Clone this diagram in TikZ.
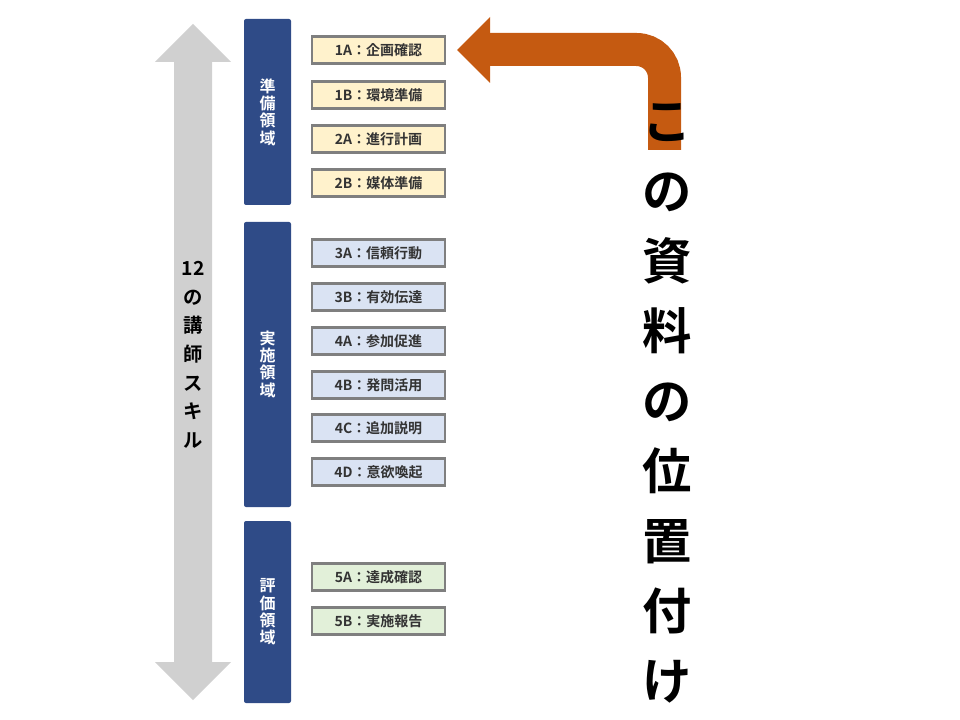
\documentclass[tikz,border=0pt]{standalone}
\usepackage{fontspec}
\setmainfont{Noto Sans CJK JP}[BoldFont={Noto Sans CJK JP Bold}]
\begin{document}
\begin{tikzpicture}[x=0.75pt,y=-0.75pt,
 dom/.style={fill=blueD,draw=none,rounded corners=1.5pt},
 item/.style={draw=grayB,line width=2pt,minimum width=133*0.75pt,minimum height=27*0.75pt,inner sep=0pt,font=\bfseries\fontsize{10.5}{12}\selectfont,text=black!80},
 dtext/.style={text=white,font=\bfseries\fontsize{12}{13}\selectfont,align=center}]
\definecolor{blueD}{HTML}{2F4B87}
\definecolor{grayB}{HTML}{7F7F7F}
\definecolor{creamF}{HTML}{FFF2CC}
\definecolor{blueF}{HTML}{DAE3F3}
\definecolor{greenF}{HTML}{E2F0D9}
\definecolor{orangeA}{HTML}{C55A11}
\definecolor{grayA}{HTML}{D0D0D0}
\useasboundingbox (0,0) rectangle (960,720);
% gray double arrow
\fill[grayA] (193,24) -- (231,62) -- (212,62) -- (212,662) -- (231,662) -- (193,700) -- (155,662) -- (174,662) -- (174,62) -- (155,62) -- cycle;
\node[align=center,font=\bfseries\fontsize{14.5}{21.5}\selectfont] (skill) at (193,355) {12\\の\\講\\師\\ス\\キ\\ル};
% domains
\fill[dom] (244,19) rectangle (291,205);
\node[dtext] (d1) at (267.5,112) {準\\備\\領\\域};
\fill[dom] (244,222) rectangle (291,507);
\node[dtext] (d2) at (267.5,364) {実\\施\\領\\域};
\fill[dom] (244,521) rectangle (291,703);
\node[dtext] (d3) at (267.5,612) {評\\価\\領\\域};
% items
\foreach \y/\t in {50/1A：企画確認,95/1B：環境準備,139/2A：進行計画,183/2B：媒体準備}
  \node[item,fill=creamF] at (378.5,\y) {\t};
\foreach \y/\t in {253/3A：信頼行動,297/3B：有効伝達,341/4A：参加促進,385/4B：発問活用,428/4C：追加説明,472/4D：意欲喚起}
  \node[item,fill=blueF] at (378.5,\y) {\t};
\foreach \y/\t in {577/5A：達成確認,621/5B：実施報告}
  \node[item,fill=greenF] at (378.5,\y) {\t};
% orange arrow
\draw[orangeA,line width=33*0.75pt,rounded corners=28*0.75pt] (664.5,150) -- (664.5,49.5) -- (489,49.5);
\fill[orangeA] (457,50) -- (490,17) -- (490,83) -- cycle;
\node[align=center,font=\bfseries\fontsize{37}{52.5}\selectfont] (pos) at (667,403) {こ\\の\\資\\料\\の\\位\\置\\付\\け};
\end{tikzpicture}
\end{document}
